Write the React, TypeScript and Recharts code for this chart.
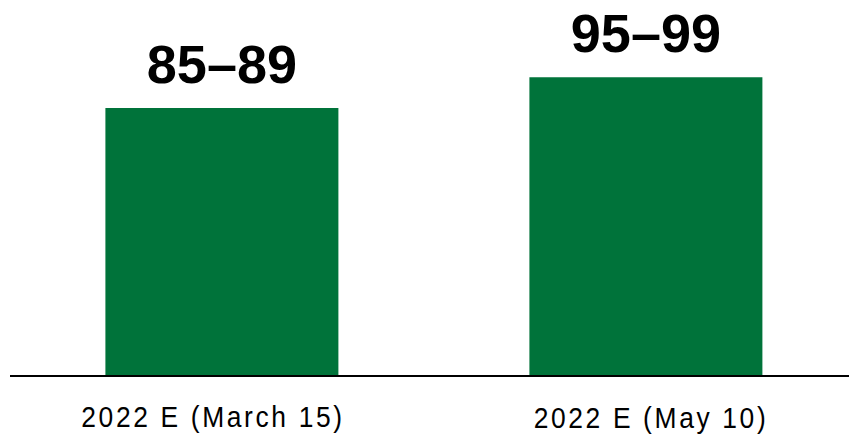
import React from "react";
import { BarChart, Bar, XAxis, YAxis, LabelList } from "recharts";

const categories = ["2022 E (March 15)", "2022 E (May 10)"];
const midpoints = [87, 97];
const rangeLabels = ["85–89", "95–99"];

const data = categories.map((name, i) => ({
  name,
  value: midpoints[i],
  label: rangeLabels[i],
}));

const tickDx = [-9, 5];
const tickDy = [0, 1];

const CategoryTick = (props: any) => {
  const { x, y, payload, index } = props;
  const tx = x + tickDx[index];
  const ty = y + 43 + tickDy[index];
  return (
    <text
      transform={`translate(${tx},${ty}) scale(0.88,1)`}
      textAnchor="middle"
      fontFamily="'Liberation Sans', Arial, sans-serif"
      fontSize={30}
      letterSpacing={3}
      fill="#000"
    >
      {payload.value}
    </text>
  );
};

const App: React.FC = () => {
  return (
    <div style={{ position: "absolute", left: 0, top: 0, width: 849, height: 434, overflow: "hidden", background: "#fff" }}>
      <BarChart
        width={858}
        height={434}
        data={data}
        margin={{ top: 68, right: 0, bottom: 0, left: 10 }}
        barCategoryGap="22.5%"
      >
        <XAxis
          dataKey="name"
          axisLine={{ stroke: "#000", strokeWidth: 2 }}
          tickLine={false}
          tick={<CategoryTick />}
          interval={0}
          height={58}
        />
        <YAxis hide domain={[0, 100]} />
        <Bar dataKey="value" fill="#00733A" isAnimationActive={false}>
          <LabelList
            dataKey="label"
            position="top"
            offset={25}
            fill="#000"
            fontSize={54}
            fontWeight="bold"
            fontFamily="'Liberation Sans', Arial, sans-serif"
          />
        </Bar>
      </BarChart>
    </div>
  );
};

export default App;
